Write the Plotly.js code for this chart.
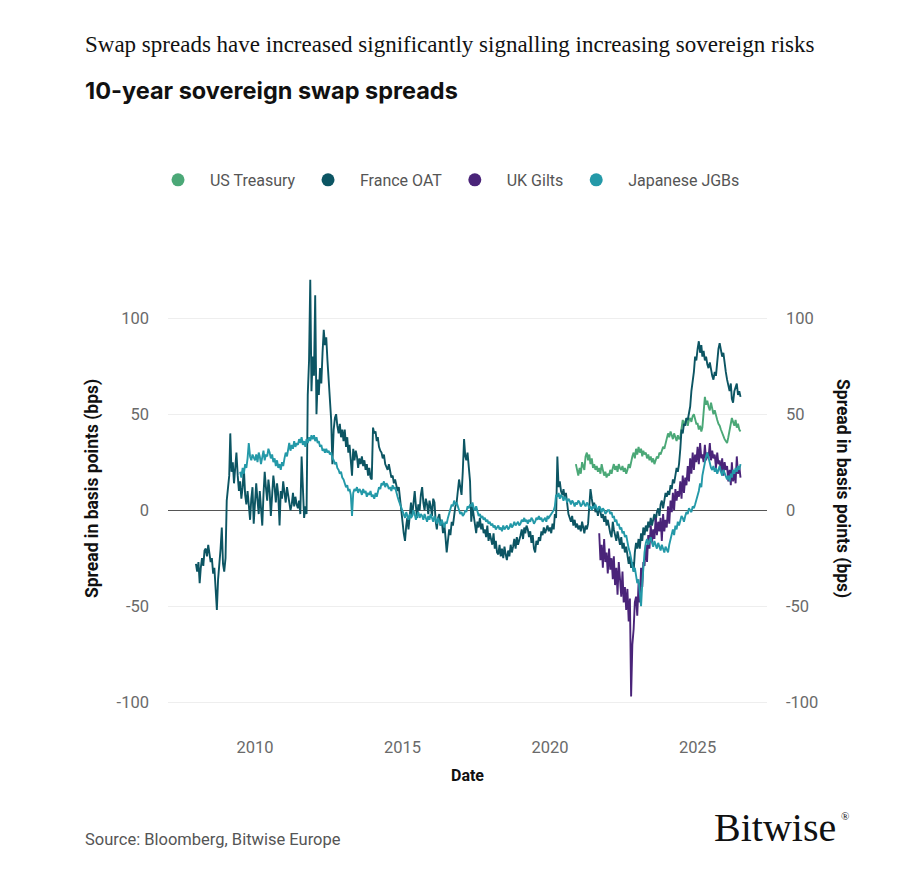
<!DOCTYPE html>
<html>
<head>
<meta charset="utf-8">
<script src="https://cdn.plot.ly/plotly-3.0.1.min.js"></script>
<style>
  html, body { margin: 0; padding: 0; background: #ffffff; }
  #chart { width: 918px; height: 890px; }
</style>
</head>
<body>
<div id="chart"></div>
<script>
// 10-year sovereign swap spreads, basis points, semi-monthly observations.

const seriesNames = ["US Treasury", "France OAT", "UK Gilts", "Japanese JGBs"];
const seriesColors = ["#4ba877", "#0c5563", "#4a2479", "#2499a8"];

// First observation of each series: [year, month, half-month (0 = 1st, 1 = 16th)]
const usStart = [2020, 11, 1];
const franceStart = [2008, 1, 0];
const ukStart = [2021, 9, 0];
const jgbStart = [2009, 7, 0];

const franceOAT = [
  /* 2008 */ -28, -32, -27, -38, -30, -25, -29, -21, -20, -24, -18, -22, -27, -25, -33, -30, -45, -52, -36, -30, -20, -9, -28, -32,
  /* 2009 */ -25, 5, 12, 18, 40, 20, 25, 14, 22, 30, 18, 10, 15, 6, 12, 22, 8, 3, 10, 0, -5, 6, 12, -7,
  /* 2010 */ 8, 14, 5, -2, 10, 3, -8, 8, 20, 12, 5, 16, 10, -3, 6, 18, 12, 4, 14, 8, -8, 10, 6, 15,
  /* 2011 */ 9, 4, 12, 8, 5, 0, 3, 9, 2, 7, 3, 1, 5, -2, 28, 8, -4, 2, -2, 60, 78, 120, 62, 80,
  /* 2012 */ 70, 112, 50, 68, 60, 74, 66, 82, 94, 86, 90, 78, 68, 58, 47, 24, 42, 48, 50, 44, 40, 45, 38, 42,
  /* 2013 */ 36, 42, 33, 38, 30, 34, 26, 18, 32, 26, 31, 28, 22, 27, 24, 28, 23, 26, 21, 24, 18, 22, 17, 16,
  /* 2014 */ 43, 40, 41, 36, 38, 33, 31, 30, 27, 29, 24, 22, 21, 24, 19, 17, 18, 14, 16, 13, 10, 12, 7, 2,
  /* 2015 */ -6, -12, -16, -8, -4, -10, -2, 4, -3, 6, 10, 2, -4, 3, 0, 8, 12, 4, 0, 6, 3, -2, 5, 2,
  /* 2016 */ -3, 6, 4, -6, -10, -4, -2, -8, -5, -12, -7, -14, -22, -16, -10, -13, -6, -8, -2, 2, 4, 10, 16, 12,
  /* 2017 */ 8, 20, 37, 28, 26, 30, 19, 15, -6, 2, -3, -8, -12, -6, -9, -4, -10, -7, -12, -10, -14, -8, -16, -12,
  /* 2018 */ -15, -18, -12, -20, -16, -22, -23, -18, -24, -20, -25, -19, -23, -26, -21, -24, -18, -22, -19, -15, -20, -14, -18, -16,
  /* 2019 */ -13, -10, -15, -9, -12, -8, -10, -14, -11, -17, -13, -20, -22, -16, -18, -14, -16, -11, -13, -9, -12, -10, -8, -11,
  /* 2020 */ -9, -12, -7, -10, -2, -4, 28, 12, 15, 10, 8, 11, 6, 9, 3, -2, -4, -6, -3, -8, -5, -9, -7, -10,
  /* 2021 */ -8, -11, -6, -9, -12, -8, -10, -7, 4, 11, 6, 2, 4, -1, 1, -3, 2, -1, -4, -2, -6, -3, -8, -5,
  /* 2022 */ -9, -12, -14, -6, -10, -13, -16, -11, -15, -18, -14, -20, -17, -22, -19, -25, -28, -24, -30, -27, -32, -22, -17, -20,
  /* 2023 */ -15, -20, -12, -16, -9, -13, -8, -11, -6, -9, -4, -8, -5, -2, -6, -1, 1, -3, 3, 5, 1, 6, 9, 7,
  /* 2024 */ 10, 8, 13, 11, 16, 14, 18, 22, 20, 24, 32, 42, 40, 45, 44, 48, 47, 50, 54, 62, 66, 72, 80, 78,
  /* 2025 */ 84, 88, 82, 86, 80, 83, 78, 80, 76, 74, 77, 72, 70, 68, 72, 70, 78, 84, 87, 84, 80, 82, 76, 72,
  /* 2026 */ 68, 64, 62, 66, 58, 56, 62, 64, 66, 60, 62, 59
];

const japaneseJGB = [
  /* 2009 */ 20, 17, 22, 19, 24, 22, 27, 35, 28, 26, 29, 27,
  /* 2010 */ 26, 29, 25, 30, 28, 24, 27, 31, 26, 29, 28, 32, 30, 27, 29, 25, 27, 23, 26, 22, 24, 21, 25, 23,
  /* 2011 */ 27, 30, 28, 33, 35, 31, 34, 32, 36, 33, 35, 34, 37, 35, 38, 34, 36, 33, 37, 35, 38, 36, 39, 37,
  /* 2012 */ 39, 36, 38, 35, 36, 33, 34, 31, 32, 30, 32, 30, 31, 29, 30, 27, 26, 24, 25, 22, 21, 19, 20, 17,
  /* 2013 */ 16, 14, 12, 13, 10, 11, 8, -3, 9, 11, 10, 12, 9, 11, 10, 8, 11, 9, 10, 7, 9, 8, 10, 7,
  /* 2014 */ 8, 6, 9, 7, 10, 12, 11, 14, 13, 15, 12, 14, 13, 11, 12, 10, 13, 11, 12, 9, 7, 5, 3, 1,
  /* 2015 */ 0, -2, -4, -1, -3, -5, -2, -4, -3, 0, -2, -5, -3, -1, -4, -2, -3, -5, -2, -4, -6, -3, -5, -2,
  /* 2016 */ -4, -6, -3, -5, -7, -4, -6, -8, -5, -7, -9, -6, -7, -4, -2, 1, 3, 2, 5, 3, 4, 2, 0, -2,
  /* 2017 */ -1, -3, -2, 0, -1, 2, 1, 3, 2, 4, 1, 0, 2, -1, -3, -2, -4, -3, -5, -4, -6, -5, -7, -6,
  /* 2018 */ -8, -7, -9, -8, -10, -9, -8, -10, -9, -11, -8, -10, -9, -8, -10, -9, -7, -9, -8, -6, -8, -7, -6, -8,
  /* 2019 */ -7, -5, -6, -4, -6, -5, -7, -5, -6, -4, -5, -7, -6, -4, -5, -3, -5, -4, -6, -5, -4, -6, -3, -4,
  /* 2020 */ -3, -2, -1, 0, 2, 8, 7, 9, 6, 8, 7, 5, 7, 6, 4, 6, 5, 3, 5, 4, 2, 4, 3, 5,
  /* 2021 */ 4, 2, 3, 5, 3, 2, 4, 3, 1, 2, 0, 2, 1, 3, 1, 0, 2, 1, -1, 1, 0, -2, -1, 0,
  /* 2022 */ 0, -2, -1, -4, -3, -6, -5, -8, -7, -10, -9, -12, -11, -14, -13, -17, -20, -22, -26, -28, -32, -30, -35, -38,
  /* 2023 */ -36, -42, -50, -38, -28, -22, -17, -15, -18, -16, -14, -17, -19, -16, -18, -20, -17, -19, -21, -18, -20, -22, -19, -21,
  /* 2024 */ -22, -18, -15, -12, -10, -13, -8, -10, -6, -8, -5, -3, -4, -6, -3, -1, -2, 1, 0, -1, 2, 1, 3, 5,
  /* 2025 */ 7, 10, 14, 12, 18, 22, 25, 28, 30, 27, 24, 22, 21, 23, 20, 22, 19, 21, 23, 20, 18, 21, 19, 17,
  /* 2026 */ 16, 18, 15, 19, 17, 21, 19, 22, 20, 23, 21, 24
];

const usTreasury = [
  /* 2020 */ 24, 20, 18,
  /* 2021 */ 22, 19, 25, 23, 21, 28, 30, 26, 29, 24, 27, 22, 24, 21, 23, 20, 22, 19, 24, 21, 18, 20, 17, 19,
  /* 2022 */ 18, 21, 19, 22, 24, 21, 23, 20, 24, 22, 21, 23, 20, 22, 19, 21, 24, 22, 26, 28, 30, 27, 32, 29,
  /* 2023 */ 33, 30, 32, 28, 31, 29, 30, 27, 29, 26, 28, 25, 27, 24, 26, 28, 27, 30, 29, 31, 33, 32, 35, 37,
  /* 2024 */ 40, 38, 41, 39, 37, 40, 38, 36, 39, 37, 38, 42, 47, 45, 46, 48, 44, 47, 48, 46, 49, 50, 47, 45,
  /* 2025 */ 45, 42, 44, 41, 43, 50, 59, 55, 57, 54, 52, 56, 53, 50, 52, 49, 47, 45, 44, 42, 40, 38, 37, 36,
  /* 2026 */ 35, 38, 42, 45, 48, 46, 44, 47, 43, 45, 42, 41
];

const ukGilts = [
  /* 2021 */ -12, -26, -18, -30, -15, -27, -22, -33,
  /* 2022 */ -20, -31, -25, -36, -24, -39, -30, -44, -27, -38, -45, -32, -48, -40, -52, -41, -58, -46, -97, -70, -62, -48, -45, -55,
  /* 2023 */ -38, -48, -30, -40, -27, -29, -18, -27, -13, -20, -8, -17, -10, -15, -4, -13, -6, -11, -4, -16, -2, -11, -5, -9,
  /* 2024 */ 2, -7, 5, -1, 9, 0, 11, 5, 10, 7, 15, 6, 18, 9, 17, 13, 23, 15, 27, 19, 30, 21, 29, 25,
  /* 2025 */ 33, 24, 35, 27, 29, 25, 34, 26, 30, 27, 35, 26, 31, 27, 29, 22, 30, 24, 26, 20, 27, 18, 25, 21,
  /* 2026 */ 23, 15, 21, 13, 25, 15, 20, 14, 28, 19, 23, 17
];

const yTickValues = [-100, -50, 0, 50, 100];
const yTickLabels = ["-100", "-50", "0", "50", "100"];
const xTickValues = ["2010-01-01", "2015-01-01", "2020-01-01", "2025-01-01"];
const xTickLabels = ["2010", "2015", "2020", "2025"];

// Dates on the 1st and 16th of each month, starting from a given half-month.
function semiMonthlyDates(start, count) {
  let [y, m, h] = start;
  const out = [];
  for (let i = 0; i < count; i++) {
    out.push(y + "-" + String(m).padStart(2, "0") + "-" + (h === 0 ? "01" : "16"));
    h++;
    if (h > 1) { h = 0; m++; if (m > 12) { m = 1; y++; } }
  }
  return out;
}

const seriesData = [
  { start: usStart, values: usTreasury },
  { start: franceStart, values: franceOAT },
  { start: ukStart, values: ukGilts },
  { start: jgbStart, values: japaneseJGB }
];

const traces = [];
seriesData.forEach((s, i) => {
  traces.push({
    type: "scatter",
    mode: "lines",
    x: semiMonthlyDates(s.start, s.values.length),
    y: s.values,
    name: seriesNames[i],
    line: { color: seriesColors[i], width: 1.9 },
    showlegend: false,
    hoverinfo: "x+y+name"
  });
});
// Legend entries drawn as round dots, with extra room around each name
const nb = "\u00a0";
seriesNames.forEach((name, i) => {
  traces.push({
    type: "scatter",
    mode: "markers",
    x: [null],
    y: [null],
    name: nb + nb + nb + name + nb + nb,
    marker: { color: seriesColors[i], size: 13, symbol: "circle" },
    showlegend: true
  });
});

const sans = "Roboto, 'Noto Sans', Arial, sans-serif";
const tickFont = { family: sans, size: 16.5, color: "#6a6a6a" };

const layout = {
  width: 918,
  height: 890,
  paper_bgcolor: "#ffffff",
  plot_bgcolor: "#ffffff",
  margin: { l: 168, r: 151, t: 251, b: 159 },
  showlegend: true,
  legend: {
    orientation: "h",
    x: 0.48, xanchor: "center",
    y: 1.148, yanchor: "middle",
    font: { family: sans, size: 16, color: "#555555" },
    itemwidth: 30,
    tracegroupgap: 0
  },
  xaxis: {
    type: "date",
    range: ["2007-01-20", "2027-05-10"],
    tickvals: xTickValues,
    ticktext: xTickLabels,
    tickfont: tickFont,
    showgrid: false,
    zeroline: false,
    showline: false,
    ticks: "",
    ticklabelstandoff: 4,
    title: { text: "<b>Date</b>", font: { family: sans, size: 16, color: "#111111" }, standoff: 14 }
  },
  yaxis: {
    range: [-115, 135],
    tickvals: yTickValues,
    ticktext: yTickLabels,
    tickfont: tickFont,
    showgrid: true,
    gridcolor: "#eeeeee",
    gridwidth: 1,
    zeroline: true,
    zerolinecolor: "#555555",
    zerolinewidth: 1,
    showline: false,
    ticks: "",
    ticklabelstandoff: 18
  },
  yaxis2: {
    overlaying: "y",
    side: "right",
    range: [-115, 135],
    tickvals: yTickValues,
    ticktext: yTickLabels,
    tickfont: tickFont,
    showgrid: false,
    zeroline: false,
    showline: false,
    ticks: "",
    ticklabelstandoff: 18
  },
  annotations: [
    {
      text: "Swap spreads have increased significantly signalling increasing sovereign risks",
      xref: "paper", yref: "paper", x: -0.142, y: 1.43,
      xanchor: "left", yanchor: "middle", showarrow: false,
      font: { family: "'Liberation Serif', 'DejaVu Serif', serif", size: 23, color: "#111111" }
    },
    {
      text: "<b>10-year sovereign swap spreads</b>",
      xref: "paper", yref: "paper", x: -0.142, y: 1.334,
      xanchor: "left", yanchor: "middle", showarrow: false,
      font: { family: "Inter, Roboto, sans-serif", size: 23.5, color: "#111111" }
    },
    {
      text: "<b>Spread in basis points (bps)</b>",
      xref: "paper", yref: "paper", x: -0.127, y: 0.506,
      xanchor: "center", yanchor: "middle", showarrow: false, textangle: -90,
      font: { family: sans, size: 17.5, color: "#111111" }
    },
    {
      text: "<b>Spread in basis points (bps)</b>",
      xref: "paper", yref: "paper", x: 1.127, y: 0.506,
      xanchor: "center", yanchor: "middle", showarrow: false, textangle: 90,
      font: { family: sans, size: 17.5, color: "#111111" }
    },
    {
      text: "Source: Bloomberg, Bitwise Europe",
      xref: "paper", yref: "paper", x: -0.142, y: -0.226,
      xanchor: "left", yanchor: "middle", showarrow: false,
      font: { family: sans, size: 16.5, color: "#555555" }
    },
    {
      text: "Bitwise",
      xref: "paper", yref: "paper", x: 1.118, y: -0.2,
      xanchor: "right", yanchor: "middle", showarrow: false,
      font: { family: "'Liberation Serif', 'DejaVu Serif', serif", size: 40, color: "#111111" }
    },
    {
      text: "®",
      xref: "paper", yref: "paper", x: 1.12, y: -0.178,
      xanchor: "left", yanchor: "middle", showarrow: false,
      font: { family: "'Liberation Serif', 'DejaVu Serif', serif", size: 11, color: "#111111" }
    }
  ]
};

// A hidden trace keeps the right-hand axis tied to the same scale
traces.push({
  type: "scatter", mode: "lines", x: [null], y: [null],
  yaxis: "y2", showlegend: false, hoverinfo: "skip"
});

Plotly.newPlot("chart", traces, layout, { displayModeBar: false, staticPlot: true });
</script>
</body>
</html>
